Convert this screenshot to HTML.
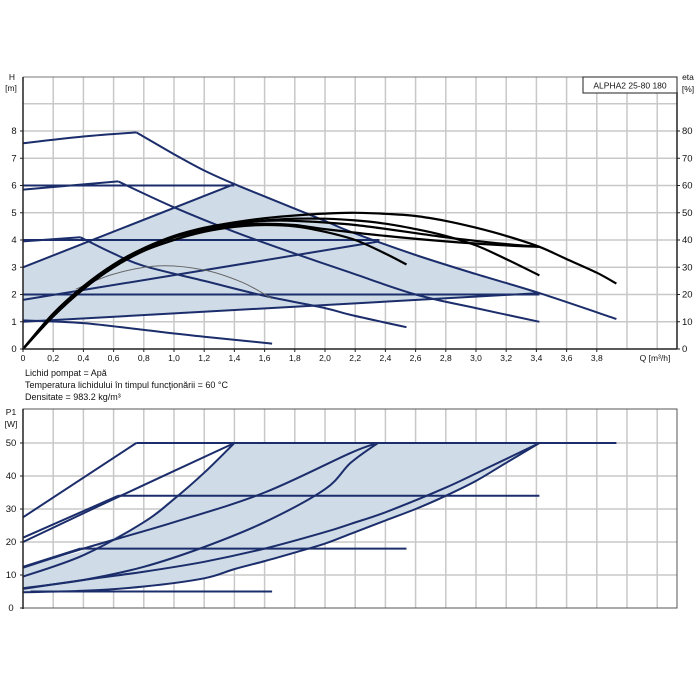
<!DOCTYPE html>
<html><head><meta charset="utf-8"><style>
html,body{margin:0;padding:0;background:#fff;}
svg{display:block;font-family:"Liberation Sans",sans-serif;}
</style></head><body>
<svg id="c" width="700" height="700" viewBox="0 0 700 700" xmlns="http://www.w3.org/2000/svg"></svg>
<script>
// ---- data ----
const qTicks = [0,0.2,0.4,0.6,0.8,1.0,1.2,1.4,1.6,1.8,2.0,2.2,2.4,2.6,2.8,3.0,3.2,3.4,3.6,3.8];
const qTickLabels = ["0","0,2","0,4","0,6","0,8","1,0","1,2","1,4","1,6","1,8","2,0","2,2","2,4","2,6","2,8","3,0","3,2","3,4","3,6","3,8"];
const hTicks = [0,1,2,3,4,5,6,7,8];
const etaTicks = [0,10,20,30,40,50,60,70,80];
const pTicks = [0,10,20,30,40,50];
// head area (Q, H)
const headArea = [[0,1.0],[0,3.0],[1.4,6.05],[1.6,5.6],[1.8,5.15],[2.0,4.7],[2.17,4.3],[2.6,3.45],[3.0,2.75],[3.42,2.05]];
const headLines = [
 [[0,6],[1.4,6]],
 [[0,4],[2.36,4]],
 [[0,2],[3.42,2]],
 [[0,3],[1.4,6.05]],
 [[0,1.8],[2.36,3.95]],
 [[0,1.0],[3.42,2.05]],
 [[0,7.55],[0.4,7.8],[0.75,7.95]],
 [[0.75,7.95],[1.0,7.15],[1.2,6.55],[1.4,6.05],[1.6,5.6],[1.8,5.15],[2.0,4.7],[2.17,4.3],[2.6,3.45],[3.0,2.75],[3.42,2.05],[3.93,1.1]],
 [[0,5.85],[0.63,6.15]],
 [[0.63,6.15],[1.0,5.2],[1.4,4.3],[1.8,3.5],[2.17,2.8],[2.6,2.0],[3.0,1.5],[3.42,1.0]],
 [[0,3.95],[0.38,4.1]],
 [[0.38,4.1],[0.6,3.5],[0.8,3.05],[1.2,2.5],[1.6,1.95],[2.0,1.5],[2.17,1.25],[2.54,0.8]],
 [[0,1.05],[0.4,0.95],[0.8,0.7],[1.2,0.45],[1.65,0.2]]
];
const greyArc = [[0.35,2.2],[0.6,2.75],[0.9,3.05],[1.2,2.9],[1.45,2.45],[1.65,1.85]];
// efficiency curves (Q, eta %)
const etaCurves = [
 [[0,0],[0.2,13],[0.4,23],[0.6,31],[0.8,37],[1.0,41.5],[1.2,44.5],[1.4,46.5],[1.6,48],[1.8,49],[2.0,49.7],[2.2,50],[2.4,49.6],[2.6,48.8],[2.8,47],[3.0,44.5],[3.2,41.5],[3.42,37.5],[3.6,33],[3.8,28],[3.93,24]],
 [[0,0],[0.2,13],[0.4,23],[0.6,31],[0.8,37],[1.0,41],[1.2,44],[1.4,46],[1.6,47.2],[1.8,47.8],[2.0,47.8],[2.2,47.2],[2.4,46],[2.6,44],[2.8,41.5],[3.0,38],[3.2,33],[3.42,27]],
 [[0,0],[0.2,12],[0.4,22],[0.6,30],[0.8,36],[1.0,40],[1.2,43],[1.4,44.8],[1.6,45.5],[1.8,45],[2.0,43],[2.2,40],[2.4,35],[2.54,31]],
 [[0,0],[0.2,12],[0.4,22],[0.6,30],[0.8,36],[1.0,40],[1.2,43.5],[1.4,45.5],[1.6,46],[1.8,45.5],[2.0,44],[2.4,41.5],[2.8,39.5],[3.2,38],[3.42,37.5]],
 [[0,0],[0.2,12.5],[0.4,22.5],[0.6,30.5],[0.8,36.5],[1.0,41],[1.2,44],[1.4,46],[1.6,47],[1.8,47],[2.2,45.5],[2.8,41],[3.2,38.5],[3.42,37.5]]
];
// power (Q, P1 W)
const powerArea = [[0,4.8],[0,12.5],[0.46,18],[0.8,26],[1.0,33.5],[1.2,41],[1.4,50],[3.42,50],[3.2,44],[3.0,38.5],[2.8,34],[2.6,30],[2.4,26.5],[2.17,22.5],[2.0,19.5],[1.8,16.8],[1.6,14.2],[1.4,11.8],[1.2,9],[0.8,6.5],[0.4,5.2]];
const powerLines = [
 [[0.75,50],[3.93,50]],
 [[0.63,34],[3.42,34]],
 [[0.38,18],[2.54,18]],
 [[0.05,5],[1.65,5]],
 [[0,27.5],[0.75,50]],
 [[0,21.3],[0.63,34]],
 [[0,20],[0.6,33],[1.4,50]],
 [[0,12.5],[0.38,18]],
 [[0,12.2],[0.4,18],[1.0,26],[1.6,35],[2.17,47],[2.35,50]],
 [[0,9.5],[0.4,16],[0.8,26],[1.0,33],[1.2,41],[1.4,50]],
 [[0,6],[0.4,8.5],[0.8,12.5],[1.2,18.5],[1.6,26],[2.0,36],[2.17,44],[2.35,50]],
 [[0,5.8],[0.4,8.5],[0.8,11],[1.2,14],[1.6,18],[2.0,23],[2.17,25.5],[2.4,29],[2.8,36.5],[3.1,43],[3.42,50]],
 [[0,4.8],[0.4,5.2],[0.8,6.5],[1.2,9],[1.4,11.8],[1.6,14.2],[1.8,16.8],[2.0,19.5],[2.17,22.5],[2.4,26.5],[2.6,30],[2.8,34],[3.0,38.5],[3.2,44],[3.42,50]]
];
// ---- axes ----
const X0=23, X1=677, QPX=151;
const xq = q => X0 + q*QPX;
const yh = h => 349 - h*27.25;
const ye = e => yh(e/10);
const yp = p => 608 - p*3.3;
const NS="http://www.w3.org/2000/svg";
const svg=document.getElementById('c');
function el(tag, attrs, parent){const e=document.createElementNS(NS,tag);for(const k in attrs)e.setAttribute(k,attrs[k]);(parent||svg).appendChild(e);return e;}
function pathD(pts, fy){return pts.map((p,i)=>(i?'L':'M')+xq(p[0]).toFixed(1)+' '+fy(p[1]).toFixed(1)).join(' ');}
function smoothD(pts, fy){
  const P=pts.map(p=>[xq(p[0]),fy(p[1])]);
  if(P.length<3) return 'M'+P.map(p=>p[0].toFixed(1)+' '+p[1].toFixed(1)).join(' L');
  let d='M'+P[0][0].toFixed(1)+' '+P[0][1].toFixed(1);
  for(let i=0;i<P.length-1;i++){
    const p0=P[i-1]||P[i],p1=P[i],p2=P[i+1],p3=P[i+2]||p2;
    const c1=[p1[0]+(p2[0]-p0[0])/6,p1[1]+(p2[1]-p0[1])/6];
    const c2=[p2[0]-(p3[0]-p1[0])/6,p2[1]-(p3[1]-p1[1])/6];
    d+=' C'+c1[0].toFixed(1)+' '+c1[1].toFixed(1)+' '+c2[0].toFixed(1)+' '+c2[1].toFixed(1)+' '+p2[0].toFixed(1)+' '+p2[1].toFixed(1);
  }
  return d;
}
function txt(x,y,s,anchor,size){const t=el('text',{x:x,y:y,'font-size':size||9,'text-anchor':anchor||'start',fill:'#111'});t.textContent=s;return t;}

// grids
const g1=el('g',{});


for(let i=1;i*0.2*QPX+X0<X1;i++){el('line',{x1:xq(i*0.2),x2:xq(i*0.2),y1:77,y2:349,stroke:'#c8c8c8','stroke-width':1.5},g1);}
for(let h=1;h<=9;h++){el('line',{x1:X0,x2:X1,y1:yh(h),y2:yh(h),stroke:'#c8c8c8','stroke-width':1.5},g1);}
const g2=el('g',{});


for(let i=1;i*0.2*QPX+X0<X1;i++){el('line',{x1:xq(i*0.2),x2:xq(i*0.2),y1:409,y2:608,stroke:'#c8c8c8','stroke-width':1.5},g2);}
for(let p=10;p<=50;p+=10){el('line',{x1:X0,x2:X1,y1:yp(p),y2:yp(p),stroke:'#c8c8c8','stroke-width':1.5},g2);}

// top chart
const area=el('path',{d:pathD(headArea,yh)+' Z',fill:'#cfdbe7',stroke:'none'});


headLines.forEach((l,i)=>{const p=el('path',{d:smoothD(l,yh),fill:'none',stroke:'#1b2d6b','stroke-width':2});

});
const ga=el('path',{d:smoothD(greyArc,yh),fill:'none',stroke:'#666','stroke-width':1});


etaCurves.forEach(l=>{const p=el('path',{d:smoothD(l,ye),fill:'none',stroke:'#000','stroke-width':2.2});

});

// frame top
el('line',{x1:X0,x2:X1,y1:77,y2:77,stroke:'#777','stroke-width':1});
el('line',{x1:X0,x2:X0,y1:77,y2:350,stroke:'#222','stroke-width':1.5});
el('line',{x1:X0,x2:X1,y1:349,y2:349,stroke:'#222','stroke-width':1.5});
el('line',{x1:X1,x2:X1,y1:92,y2:349,stroke:'#222','stroke-width':1.5});
// ticks/labels
qTicks.forEach((q,i)=>{el('line',{x1:xq(q),x2:xq(q),y1:349,y2:352,stroke:'#222'});
const t=txt(xq(q),361,qTickLabels[i],'middle',8.5);

});
const ql=txt(655,361,'Q [m³/h]','middle',8.5);


hTicks.forEach(h=>{el('line',{x1:X0-3,x2:X0,y1:yh(h),y2:yh(h),stroke:'#222'});
const t=txt(14,yh(h)+3,String(h),'middle',9.5);

});
etaTicks.forEach(e=>{el('line',{x1:X1,x2:X1+3,y1:ye(e),y2:ye(e),stroke:'#222'});
const t=txt(682,ye(e)+3,String(e),'start',9.5);

});
const h1=txt(12,80,'H','middle',8.5);
txt(11,91,'[m]','middle',8.5);
const e1=txt(688,80,'eta','middle',8.5);
txt(688,92,'[%]','middle',8.5);
const box=el('rect',{x:583,y:77,width:94,height:16,fill:'#fff',stroke:'#222','stroke-width':1});


const bt=txt(630,88.5,'ALPHA2 25-80 180','middle',8.5);



// notes
const n1=txt(25,376,'Lichid pompat = Apă','start',9);
const n2=txt(25,388,'Temperatura lichidului în timpul funcţionării = 60 °C','start',9);
const n3=txt(25,400,'Densitate = 983.2 kg/m³','start',9);

// bottom chart
const pa=el('path',{d:pathD(powerArea,yp)+' Z',fill:'#cfdbe7',stroke:'none'});


powerLines.forEach(l=>{const p=el('path',{d:smoothD(l,yp),fill:'none',stroke:'#1b2d6b','stroke-width':2});

});
el('rect',{x:X0,y:409,width:X1-X0,height:199,fill:'none',stroke:'#555','stroke-width':1});
el('line',{x1:X0,x2:X0,y1:409,y2:609,stroke:'#222','stroke-width':1.5});
pTicks.forEach(p=>{el('line',{x1:X0-3,x2:X0,y1:yp(p),y2:yp(p),stroke:'#222'});
const t=txt(11,yp(p)+3,String(p),'middle',9.5);

});
const p1=txt(11,415,'P1','middle',8.5);
txt(11,427,'[W]','middle',8.5);
</script>
</body></html>
